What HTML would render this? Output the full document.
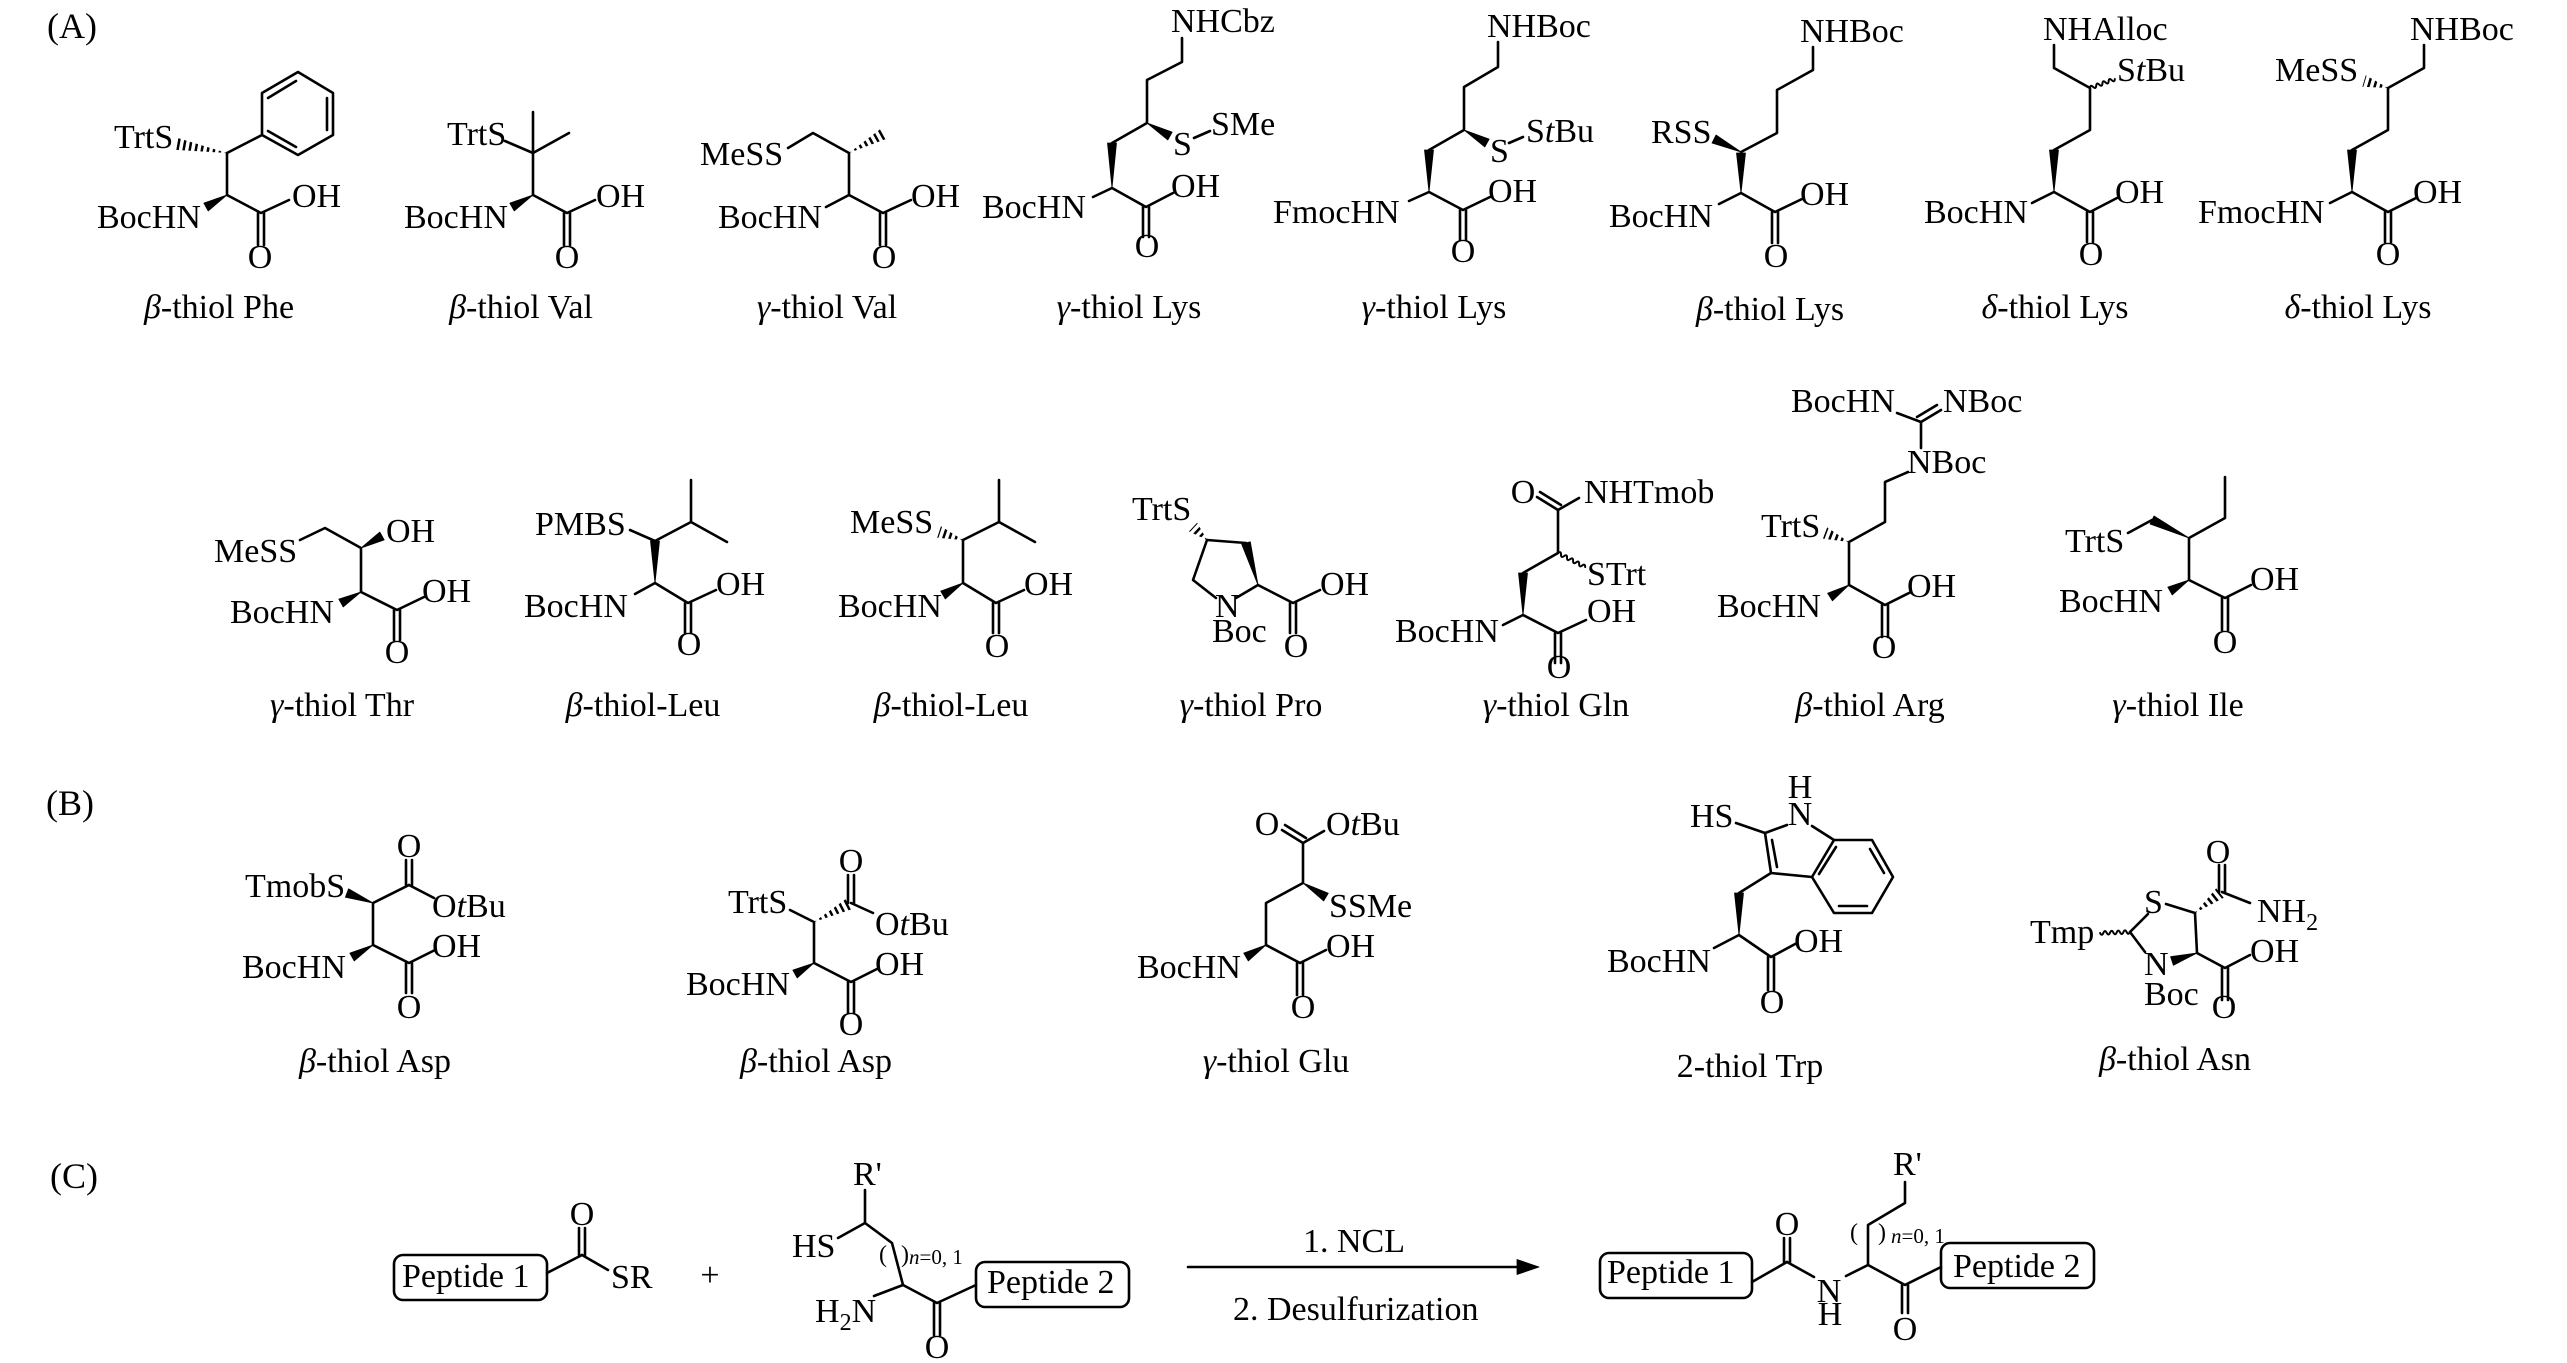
<!DOCTYPE html>
<html><head><meta charset="utf-8"><style>
html,body{margin:0;padding:0;background:#fff;}
svg{display:block;}
text{font-family:"Liberation Serif","Times New Roman",serif;font-size:34px;fill:#000;}
.i{font-style:italic;}
</style></head><body>
<svg width="2567" height="1363" viewBox="0 0 2567 1363" xmlns="http://www.w3.org/2000/svg">
<defs>
<clipPath id="h1"><polygon points="227,153 178.1,138.1 175.9,149.9"/></clipPath>
<clipPath id="h2"><polygon points="849,153 887.9,138.2 882.1,127.8"/></clipPath>
<clipPath id="h3"><polygon points="2388,88 2365.7,75.2 2362.3,86.8"/></clipPath>
<clipPath id="h4"><polygon points="963,540 940.9,526.3 937.1,537.7"/></clipPath>
<clipPath id="h5"><polygon points="1207,540 1197.1,522.6 1188.9,531.4"/></clipPath>
<clipPath id="h6"><polygon points="1849,542 1827.1,527.4 1822.9,538.6"/></clipPath>
<clipPath id="h7"><polygon points="814,922 851.7,909.3 846.3,898.7"/></clipPath>
<clipPath id="h8"><polygon points="2195,913 2223.8,897.7 2216.3,888.3"/></clipPath>
</defs>
<rect width="2567" height="1363" fill="#fff"/>

<!-- panel labels -->
<text x="47" y="38" style="font-size:36px">(A)</text>
<text x="46" y="815" style="font-size:36px">(B)</text>
<text x="50" y="1188" style="font-size:36px">(C)</text>

<g stroke="#000" stroke-width="2.6" fill="none" stroke-linecap="round" stroke-linejoin="round">
<!-- ===== Row 1 ===== -->
<!-- beta-thiol Phe -->
<polygon points="298,72 333,93 333,135 298,155 262,135 262,93"/>
<line x1="327" y1="98" x2="327" y2="130"/>
<line x1="268" y1="98" x2="296" y2="81"/>
<line x1="296" y1="147" x2="268" y2="131"/>
<line x1="227" y1="153" x2="262" y2="135"/>
<line x1="227" y1="153" x2="227" y2="195"/>
<polyline points="227,195 261,213 289,200"/>
<line x1="258" y1="213" x2="258" y2="245"/><line x1="264" y1="213" x2="264" y2="245"/>
<line x1="227" y1="153" x2="177" y2="144" stroke-width="14" stroke-dasharray="2.5 3.5" stroke-linecap="butt" clip-path="url(#h1)"/>

<!-- beta-thiol Val -->
<line x1="533" y1="153" x2="533" y2="112"/>
<line x1="533" y1="153" x2="569" y2="133"/>
<line x1="505" y1="141" x2="533" y2="153"/>
<line x1="533" y1="153" x2="533" y2="195"/>
<polyline points="533,195 567,213 595,200"/>
<line x1="564" y1="213" x2="564" y2="245"/><line x1="570" y1="213" x2="570" y2="245"/>

<!-- gamma-thiol Val -->
<polyline points="788,148 813,133 849,153 849,195"/>
<line x1="849" y1="195" x2="826" y2="207"/>
<polyline points="849,195 883,213 911,200"/>
<line x1="880" y1="213" x2="880" y2="245"/><line x1="886" y1="213" x2="886" y2="245"/>
<line x1="849" y1="153" x2="885" y2="133" stroke-width="14" stroke-dasharray="2.5 3.5" stroke-linecap="butt" clip-path="url(#h2)"/>

<!-- gamma-thiol Lys (Cbz) -->
<polyline points="1182,38 1182,62 1147,80 1147,123 1112,143"/>
<line x1="1194" y1="138" x2="1210" y2="131"/>
<line x1="1112" y1="188" x2="1093" y2="197"/>
<polyline points="1112,188 1146,207 1173,193"/>
<line x1="1143" y1="207" x2="1143" y2="237"/><line x1="1149" y1="207" x2="1149" y2="237"/>

<!-- gamma-thiol Lys (Boc/StBu) -->
<polyline points="1498,42 1498,67 1464,87 1464,130 1429,150"/>
<line x1="1509" y1="143" x2="1523" y2="137"/>
<line x1="1429" y1="192" x2="1409" y2="201"/>
<polyline points="1429,192 1463,210 1490,197"/>
<line x1="1460" y1="210" x2="1460" y2="240"/><line x1="1466" y1="210" x2="1466" y2="240"/>

<!-- beta-thiol Lys (RSS) -->
<polyline points="1813,47 1813,70 1777,90 1777,133 1741,152"/>
<line x1="1741" y1="193" x2="1719" y2="204"/>
<polyline points="1741,193 1775,212 1802,199"/>
<line x1="1772" y1="212" x2="1772" y2="243"/><line x1="1778" y1="212" x2="1778" y2="243"/>

<!-- delta-thiol Lys (Alloc) -->
<polyline points="2054,45 2054,68 2090,88 2090,130 2054,150"/>
<path transform="translate(2090,88) rotate(-19.8)" d="M0,0 q1.65,-3.5 3.3,0 t3.3,0 t3.3,0 t3.3,0 t3.3,0 t3.3,0 t3.3,0 t3.3,0" stroke-width="2"/>
<line x1="2054" y1="192" x2="2032" y2="203"/>
<polyline points="2054,192 2090,212 2117,198"/>
<line x1="2087" y1="212" x2="2087" y2="242"/><line x1="2093" y1="212" x2="2093" y2="242"/>

<!-- delta-thiol Lys (MeSS) -->
<polyline points="2424,45 2424,68 2388,88 2388,130 2352,150"/>
<line x1="2352" y1="192" x2="2330" y2="203"/>
<polyline points="2352,192 2388,212 2416,198"/>
<line x1="2385" y1="212" x2="2385" y2="242"/><line x1="2391" y1="212" x2="2391" y2="242"/>
<line x1="2388" y1="88" x2="2364" y2="81" stroke-width="14" stroke-dasharray="2.5 3.5" stroke-linecap="butt" clip-path="url(#h3)"/>

<!-- ===== Row 2 ===== -->
<!-- gamma-thiol Thr -->
<polyline points="300,540 325,528 361,548 361,592"/>
<polyline points="361,592 397,610 424,597"/>
<line x1="394" y1="610" x2="394" y2="640"/><line x1="400" y1="610" x2="400" y2="640"/>

<!-- beta-thiol Leu (PMBS) -->
<line x1="630" y1="530" x2="655" y2="541"/>
<polyline points="655,541 691,522 691,480"/>
<line x1="691" y1="522" x2="727" y2="542"/>
<line x1="655" y1="583" x2="635" y2="594"/>
<polyline points="655,583 688,603 716,590"/>
<line x1="685" y1="603" x2="685" y2="633"/><line x1="691" y1="603" x2="691" y2="633"/>

<!-- beta-thiol Leu (MeSS) -->
<polyline points="963,540 999,522 999,480"/>
<line x1="999" y1="522" x2="1035" y2="542"/>
<line x1="963" y1="540" x2="963" y2="583"/>
<polyline points="963,583 996,603 1024,590"/>
<line x1="993" y1="603" x2="993" y2="633"/><line x1="999" y1="603" x2="999" y2="633"/>
<line x1="963" y1="540" x2="939" y2="532" stroke-width="14" stroke-dasharray="2.5 3.5" stroke-linecap="butt" clip-path="url(#h4)"/>

<!-- gamma-thiol Pro -->
<line x1="1207" y1="540" x2="1246" y2="543"/>
<polyline points="1207,540 1193,580 1216,598"/>
<line x1="1236" y1="598" x2="1258" y2="585"/>
<polyline points="1258,585 1293,603 1320,590"/>
<line x1="1290" y1="603" x2="1290" y2="633"/><line x1="1296" y1="603" x2="1296" y2="633"/>
<line x1="1207" y1="540" x2="1193" y2="527" stroke-width="14" stroke-dasharray="2.5 3.5" stroke-linecap="butt" clip-path="url(#h5)"/>

<!-- gamma-thiol Gln -->
<line x1="1558" y1="510" x2="1537" y2="497"/>
<line x1="1561" y1="505" x2="1540" y2="492"/>
<line x1="1558" y1="510" x2="1579" y2="498"/>
<polyline points="1558,510 1558,553 1523,573"/>
<path transform="translate(1558,553) rotate(27.4)" d="M0,0 q1.7,-3.5 3.4,0 t3.4,0 t3.4,0 t3.4,0 t3.4,0 t3.4,0 t3.4,0 t3.4,0 t3.4,0" stroke-width="2"/>
<line x1="1523" y1="615" x2="1503" y2="625"/>
<polyline points="1523,615 1558,633 1586,620"/>
<line x1="1555" y1="633" x2="1555" y2="663"/><line x1="1561" y1="633" x2="1561" y2="663"/>

<!-- beta-thiol Arg -->
<line x1="1897" y1="413" x2="1921" y2="422"/>
<line x1="1921" y1="422" x2="1941" y2="410"/>
<line x1="1917" y1="417" x2="1937" y2="405"/>
<line x1="1921" y1="422" x2="1921" y2="448"/>
<polyline points="1908,472 1885,482 1885,522 1849,542 1849,585"/>
<polyline points="1849,585 1885,605 1911,592"/>
<line x1="1882" y1="605" x2="1882" y2="637"/><line x1="1888" y1="605" x2="1888" y2="637"/>
<line x1="1849" y1="542" x2="1825" y2="533" stroke-width="14" stroke-dasharray="2.5 3.5" stroke-linecap="butt" clip-path="url(#h6)"/>

<!-- gamma-thiol Ile -->
<polyline points="2225,477 2225,518 2189,538 2189,580"/>
<line x1="2152" y1="520" x2="2128" y2="533"/>
<polyline points="2189,580 2225,598 2251,585"/>
<line x1="2222" y1="598" x2="2222" y2="630"/><line x1="2228" y1="598" x2="2228" y2="630"/>

<!-- ===== Row B ===== -->
<!-- beta-thiol Asp (Tmob) -->
<line x1="406" y1="860" x2="406" y2="885"/><line x1="412" y1="860" x2="412" y2="885"/>
<line x1="409" y1="885" x2="434" y2="898"/>
<polyline points="409,885 373,903 373,945"/>
<polyline points="373,945 409,963 435,950"/>
<line x1="406" y1="963" x2="406" y2="993"/><line x1="412" y1="963" x2="412" y2="993"/>

<!-- beta-thiol Asp (Trt) -->
<line x1="848" y1="875" x2="848" y2="903"/><line x1="854" y1="875" x2="854" y2="903"/>
<line x1="851" y1="903" x2="873" y2="913"/>
<polyline points="790,910 814,922 814,963"/>
<polyline points="814,963 851,982 877,969"/>
<line x1="848" y1="982" x2="848" y2="1013"/><line x1="854" y1="982" x2="854" y2="1013"/>
<line x1="814" y1="922" x2="849" y2="904" stroke-width="14" stroke-dasharray="2.5 3.5" stroke-linecap="butt" clip-path="url(#h7)"/>

<!-- gamma-thiol Glu -->
<line x1="1303" y1="843" x2="1282" y2="830"/>
<line x1="1306" y1="838" x2="1285" y2="825"/>
<line x1="1303" y1="843" x2="1324" y2="831"/>
<polyline points="1303,843 1303,883 1266,903 1266,945"/>
<polyline points="1266,945 1300,963 1326,950"/>
<line x1="1297" y1="963" x2="1297" y2="995"/><line x1="1303" y1="963" x2="1303" y2="995"/>

<!-- 2-thiol Trp -->
<line x1="1736" y1="823" x2="1765" y2="833"/>
<line x1="1765" y1="833" x2="1787" y2="825"/>
<line x1="1812" y1="826" x2="1834" y2="840"/>
<line x1="1765" y1="833" x2="1771" y2="873"/>
<line x1="1772" y1="840" x2="1777" y2="867"/>
<line x1="1771" y1="873" x2="1812" y2="877"/>
<polygon points="1834,840 1872,840 1893,877 1872,913 1834,913 1812,877"/>
<line x1="1870" y1="849" x2="1884" y2="873"/>
<line x1="1839" y1="906" x2="1867" y2="906"/>
<line x1="1819" y1="874" x2="1836" y2="847"/>
<line x1="1771" y1="873" x2="1739" y2="893"/>
<line x1="1739" y1="935" x2="1714" y2="948"/>
<polyline points="1739,935 1771,957 1797,943"/>
<line x1="1768" y1="957" x2="1768" y2="990"/><line x1="1774" y1="957" x2="1774" y2="990"/>

<!-- beta-thiol Asn -->
<line x1="2219" y1="865" x2="2219" y2="892"/><line x1="2225" y1="865" x2="2225" y2="892"/>
<line x1="2222" y1="892" x2="2250" y2="903"/>
<line x1="2166" y1="904" x2="2195" y2="913"/>
<line x1="2148" y1="914" x2="2130" y2="932"/>
<line x1="2130" y1="932" x2="2145" y2="952"/>
<path transform="translate(2130,932) rotate(178)" d="M0,0 q1.67,-3.5 3.33,0 t3.33,0 t3.33,0 t3.33,0 t3.33,0 t3.33,0 t3.33,0 t3.33,0 t3.33,0" stroke-width="2"/>
<line x1="2195" y1="913" x2="2197" y2="953"/>
<polyline points="2197,953 2225,968 2250,955"/>
<line x1="2222" y1="968" x2="2222" y2="1000"/><line x1="2228" y1="968" x2="2228" y2="1000"/>
<line x1="2195" y1="913" x2="2220" y2="893" stroke-width="14" stroke-dasharray="2.5 3.5" stroke-linecap="butt" clip-path="url(#h8)"/>

<!-- ===== Row C ===== -->
<rect x="394" y="1255" width="153" height="45" rx="9"/>
<line x1="547" y1="1273" x2="582" y2="1255"/>
<line x1="579" y1="1228" x2="579" y2="1255"/><line x1="585" y1="1228" x2="585" y2="1255"/>
<line x1="582" y1="1255" x2="608" y2="1270"/>
<line x1="865" y1="1190" x2="865" y2="1223"/>
<line x1="865" y1="1223" x2="838" y2="1238"/>
<polyline points="865,1223 892,1243 903,1285"/>
<line x1="874" y1="1296" x2="903" y2="1285"/>
<polyline points="903,1285 937,1303 976,1285"/>
<line x1="934" y1="1303" x2="934" y2="1335"/><line x1="940" y1="1303" x2="940" y2="1335"/>
<rect x="976" y="1262" width="153" height="45" rx="9"/>
<line x1="1188" y1="1267" x2="1522" y2="1267"/>

<rect x="1600" y="1253" width="152" height="45" rx="9"/>
<line x1="1752" y1="1282" x2="1787" y2="1262"/>
<line x1="1784" y1="1238" x2="1784" y2="1262"/><line x1="1790" y1="1238" x2="1790" y2="1262"/>
<line x1="1787" y1="1262" x2="1814" y2="1277"/>
<line x1="1846" y1="1276" x2="1868" y2="1265"/>
<polyline points="1868,1265 1868,1225 1905,1203 1905,1182"/>
<polyline points="1868,1265 1905,1285 1941,1267"/>
<line x1="1902" y1="1285" x2="1902" y2="1313"/><line x1="1908" y1="1285" x2="1908" y2="1313"/>
<rect x="1941" y="1243" width="153" height="45" rx="9"/>
</g>

<!-- filled wedges and arrowhead -->
<g fill="#000" stroke="#000" stroke-width="0.8" stroke-linejoin="round">
<polygon points="227,195 203.8,203.1 208.2,210.9"/>
<polygon points="533,195 509.8,203.1 514.2,210.9"/>
<polygon points="1112,188 1107.5,143 1116.5,143"/>
<polygon points="1147,123 1167.8,139.9 1172.2,132.1"/>
<polygon points="1429,192 1424.5,150 1433.5,150"/>
<polygon points="1464,130 1484.8,146.9 1489.2,139.1"/>
<polygon points="1741,152 1716,135 1712,143"/>
<polygon points="1741,193 1736.5,153 1745.5,153"/>
<polygon points="2054,192 2049.5,150 2058.5,150"/>
<polygon points="2352,192 2347.5,150 2356.5,150"/>
<polygon points="361,548 384.2,539.9 379.8,532.1"/>
<polygon points="361,592 338.8,599.1 343.2,606.9"/>
<polygon points="655,583 650.5,541 659.5,541"/>
<polygon points="963,583 940.7,591.1 945.3,598.9"/>
<polygon points="1258,585 1250.3,541.8 1241.7,544.2"/>
<polygon points="1523,615 1518.5,573 1527.5,573"/>
<polygon points="1849,585 1827.6,593.2 1832.4,600.8"/>
<polygon points="2189,538 2154,516 2150,524"/>
<polygon points="2189,580 2167.8,587.1 2172.2,594.9"/>
<polygon points="373,903 348.6,888.8 345.4,897.2"/>
<polygon points="373,945 349.8,953.1 354.2,960.9"/>
<polygon points="814,963 792.8,970.1 797.2,977.9"/>
<polygon points="1303,883 1323.7,900.9 1328.3,893.2"/>
<polygon points="1266,945 1243.7,953.1 1248.3,960.9"/>
<polygon points="1739,935 1734.5,893 1743.5,893"/>
<polygon points="2197,953 2170.6,956.7 2173.4,965.3"/>
<polygon points="1539,1267 1517,1259.5 1517,1274.5"/>
</g>

<!-- ===== TEXT Row 1 ===== -->
<text x="114" y="148">TrtS</text>
<text x="97" y="228">BocHN</text>
<text x="292" y="207">OH</text>
<text x="260" y="268" text-anchor="middle">O</text>
<text x="219" y="318" text-anchor="middle"><tspan class="i">β</tspan>-thiol Phe</text>

<text x="447" y="145">TrtS</text>
<text x="404" y="228">BocHN</text>
<text x="596" y="207">OH</text>
<text x="567" y="268" text-anchor="middle">O</text>
<text x="521" y="318" text-anchor="middle"><tspan class="i">β</tspan>-thiol Val</text>

<text x="700" y="165">MeSS</text>
<text x="718" y="228">BocHN</text>
<text x="911" y="207">OH</text>
<text x="884" y="268" text-anchor="middle">O</text>
<text x="827" y="318" text-anchor="middle"><tspan class="i">γ</tspan>-thiol Val</text>

<text x="1171" y="32">NHCbz</text>
<text x="1173" y="155">S</text>
<text x="1211" y="135">SMe</text>
<text x="982" y="218">BocHN</text>
<text x="1171" y="197">OH</text>
<text x="1147" y="257" text-anchor="middle">O</text>
<text x="1129" y="318" text-anchor="middle"><tspan class="i">γ</tspan>-thiol Lys</text>

<text x="1487" y="37">NHBoc</text>
<text x="1490" y="162">S</text>
<text x="1526" y="142">S<tspan class="i">t</tspan>Bu</text>
<text x="1273" y="223">FmocHN</text>
<text x="1488" y="202">OH</text>
<text x="1463" y="262" text-anchor="middle">O</text>
<text x="1434" y="318" text-anchor="middle"><tspan class="i">γ</tspan>-thiol Lys</text>

<text x="1800" y="42">NHBoc</text>
<text x="1651" y="143">RSS</text>
<text x="1609" y="227">BocHN</text>
<text x="1800" y="205">OH</text>
<text x="1776" y="267" text-anchor="middle">O</text>
<text x="1770" y="320" text-anchor="middle"><tspan class="i">β</tspan>-thiol Lys</text>

<text x="2043" y="40">NHAlloc</text>
<text x="2117" y="81">S<tspan class="i">t</tspan>Bu</text>
<text x="1924" y="223">BocHN</text>
<text x="2115" y="203">OH</text>
<text x="2091" y="265" text-anchor="middle">O</text>
<text x="2055" y="318" text-anchor="middle"><tspan class="i">δ</tspan>-thiol Lys</text>

<text x="2410" y="40">NHBoc</text>
<text x="2275" y="81">MeSS</text>
<text x="2198" y="223">FmocHN</text>
<text x="2413" y="203">OH</text>
<text x="2388" y="265" text-anchor="middle">O</text>
<text x="2358" y="318" text-anchor="middle"><tspan class="i">δ</tspan>-thiol Lys</text>

<!-- ===== TEXT Row 2 ===== -->
<text x="214" y="562">MeSS</text>
<text x="386" y="542">OH</text>
<text x="230" y="623">BocHN</text>
<text x="422" y="602">OH</text>
<text x="397" y="663" text-anchor="middle">O</text>
<text x="342" y="716" text-anchor="middle"><tspan class="i">γ</tspan>-thiol Thr</text>

<text x="535" y="535">PMBS</text>
<text x="524" y="617">BocHN</text>
<text x="716" y="595">OH</text>
<text x="689" y="655" text-anchor="middle">O</text>
<text x="643" y="716" text-anchor="middle"><tspan class="i">β</tspan>-thiol-Leu</text>

<text x="850" y="533">MeSS</text>
<text x="838" y="617">BocHN</text>
<text x="1024" y="595">OH</text>
<text x="997" y="657" text-anchor="middle">O</text>
<text x="951" y="716" text-anchor="middle"><tspan class="i">β</tspan>-thiol-Leu</text>

<text x="1132" y="520">TrtS</text>
<text x="1215" y="617">N</text>
<text x="1212" y="642">Boc</text>
<text x="1320" y="595">OH</text>
<text x="1296" y="657" text-anchor="middle">O</text>
<text x="1251" y="716" text-anchor="middle"><tspan class="i">γ</tspan>-thiol Pro</text>

<text x="1523" y="503" text-anchor="middle">O</text>
<text x="1584" y="503">NHTmob</text>
<text x="1587" y="585">STrt</text>
<text x="1395" y="642">BocHN</text>
<text x="1587" y="622">OH</text>
<text x="1559" y="678" text-anchor="middle">O</text>
<text x="1556" y="716" text-anchor="middle"><tspan class="i">γ</tspan>-thiol Gln</text>

<text x="1791" y="412">BocHN</text>
<text x="1943" y="412">NBoc</text>
<text x="1907" y="473">NBoc</text>
<text x="1761" y="537">TrtS</text>
<text x="1717" y="617">BocHN</text>
<text x="1907" y="597">OH</text>
<text x="1884" y="658" text-anchor="middle">O</text>
<text x="1870" y="716" text-anchor="middle"><tspan class="i">β</tspan>-thiol Arg</text>

<text x="2065" y="552">TrtS</text>
<text x="2059" y="612">BocHN</text>
<text x="2250" y="590">OH</text>
<text x="2225" y="653" text-anchor="middle">O</text>
<text x="2178" y="716" text-anchor="middle"><tspan class="i">γ</tspan>-thiol Ile</text>

<!-- ===== TEXT Row B ===== -->
<text x="409" y="857" text-anchor="middle">O</text>
<text x="432" y="917">O<tspan class="i">t</tspan>Bu</text>
<text x="245" y="897">TmobS</text>
<text x="242" y="978">BocHN</text>
<text x="432" y="957">OH</text>
<text x="409" y="1018" text-anchor="middle">O</text>
<text x="375" y="1072" text-anchor="middle"><tspan class="i">β</tspan>-thiol Asp</text>

<text x="851" y="872" text-anchor="middle">O</text>
<text x="875" y="935">O<tspan class="i">t</tspan>Bu</text>
<text x="728" y="913">TrtS</text>
<text x="686" y="995">BocHN</text>
<text x="875" y="975">OH</text>
<text x="851" y="1035" text-anchor="middle">O</text>
<text x="816" y="1072" text-anchor="middle"><tspan class="i">β</tspan>-thiol Asp</text>

<text x="1267" y="835" text-anchor="middle">O</text>
<text x="1326" y="835">O<tspan class="i">t</tspan>Bu</text>
<text x="1329" y="917">SSMe</text>
<text x="1137" y="978">BocHN</text>
<text x="1326" y="957">OH</text>
<text x="1303" y="1018" text-anchor="middle">O</text>
<text x="1276" y="1072" text-anchor="middle"><tspan class="i">γ</tspan>-thiol Glu</text>

<text x="1800" y="798" text-anchor="middle">H</text>
<text x="1800" y="825" text-anchor="middle">N</text>
<text x="1690" y="827">HS</text>
<text x="1607" y="972">BocHN</text>
<text x="1794" y="952">OH</text>
<text x="1772" y="1013" text-anchor="middle">O</text>
<text x="1750" y="1077" text-anchor="middle">2-thiol Trp</text>

<text x="2218" y="863" text-anchor="middle">O</text>
<text x="2257" y="922">NH<tspan style="font-size:24px" dy="8">2</tspan></text>
<text x="2144" y="913">S</text>
<text x="2030" y="943">Tmp</text>
<text x="2144" y="975">N</text>
<text x="2144" y="1005">Boc</text>
<text x="2250" y="962">OH</text>
<text x="2224" y="1018" text-anchor="middle">O</text>
<text x="2175" y="1070" text-anchor="middle"><tspan class="i">β</tspan>-thiol Asn</text>

<!-- ===== TEXT Row C ===== -->
<text x="402" y="1287">Peptide 1</text>
<text x="582" y="1225" text-anchor="middle">O</text>
<text x="611" y="1288">SR</text>
<text x="710" y="1286" text-anchor="middle">+</text>
<text x="853" y="1185">R'</text>
<text x="792" y="1257">HS</text>
<text x="879" y="1262" style="font-size:24px">(</text>
<text x="901" y="1262" style="font-size:24px">)</text>
<text x="909" y="1264" style="font-size:21px"><tspan class="i">n</tspan>=0, 1</text>
<text x="815" y="1322">H<tspan style="font-size:24px" dy="8">2</tspan><tspan dy="-8">N</tspan></text>
<text x="937" y="1358" text-anchor="middle">O</text>
<text x="987" y="1293">Peptide 2</text>

<text x="1303" y="1252">1. NCL</text>
<text x="1233" y="1320">2. Desulfurization</text>

<text x="1607" y="1283">Peptide 1</text>
<text x="1787" y="1235" text-anchor="middle">O</text>
<text x="1829" y="1302" text-anchor="middle">N</text>
<text x="1830" y="1325" text-anchor="middle">H</text>
<text x="1893" y="1175">R'</text>
<text x="1850" y="1240" style="font-size:24px">(</text>
<text x="1878" y="1240" style="font-size:24px">)</text>
<text x="1891" y="1243" style="font-size:21px"><tspan class="i">n</tspan>=0, 1</text>
<text x="1905" y="1340" text-anchor="middle">O</text>
<text x="1953" y="1277">Peptide 2</text>
</svg>
</body></html>
